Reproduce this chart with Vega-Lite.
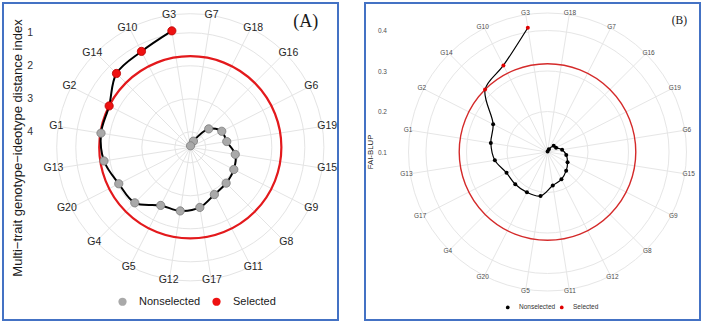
{
  "$schema": "https://vega.github.io/schema/vega-lite/v6.json",
  "background": "white",
  "padding": {"left": 2, "top": 2, "right": 2, "bottom": 2},
  "spacing": 27,
  "bounds": "flush",
  "config": {
    "view": {"stroke": "#4472c4", "strokeWidth": 2},
    "font": "Liberation Sans"
  },
  "datasets": {
    "mgidi": [
      {"g": "G3", "v": 0.897, "sel": "Selected"},
      {"g": "G10", "v": 1.209, "sel": "Selected"},
      {"g": "G14", "v": 1.306, "sel": "Selected"},
      {"g": "G2", "v": 1.71, "sel": "Selected"},
      {"g": "G1", "v": 1.73, "sel": "Nonselected"},
      {"g": "G13", "v": 1.822, "sel": "Nonselected"},
      {"g": "G20", "v": 2.037, "sel": "Nonselected"},
      {"g": "G4", "v": 2.091, "sel": "Nonselected"},
      {"g": "G5", "v": 2.494, "sel": "Nonselected"},
      {"g": "G12", "v": 2.518, "sel": "Nonselected"},
      {"g": "G17", "v": 2.625, "sel": "Nonselected"},
      {"g": "G11", "v": 2.864, "sel": "Nonselected"},
      {"g": "G8", "v": 2.934, "sel": "Nonselected"},
      {"g": "G9", "v": 2.99, "sel": "Nonselected"},
      {"g": "G15", "v": 3.09, "sel": "Nonselected"},
      {"g": "G19", "v": 3.352, "sel": "Nonselected"},
      {"g": "G6", "v": 3.4, "sel": "Nonselected"},
      {"g": "G16", "v": 3.68, "sel": "Nonselected"},
      {"g": "G18", "v": 4.261, "sel": "Nonselected"},
      {"g": "G7", "v": 4.425, "sel": "Nonselected"}
    ],
    "fai": [
      {"g": "G3", "v": 0.4106, "sel": "Selected"},
      {"g": "G10", "v": 0.3398, "sel": "Selected"},
      {"g": "G14", "v": 0.318, "sel": "Selected"},
      {"g": "G2", "v": 0.2506, "sel": "Nonselected"},
      {"g": "G1", "v": 0.2417, "sel": "Nonselected"},
      {"g": "G13", "v": 0.2316, "sel": "Nonselected"},
      {"g": "G17", "v": 0.2135, "sel": "Nonselected"},
      {"g": "G4", "v": 0.2125, "sel": "Nonselected"},
      {"g": "G20", "v": 0.2118, "sel": "Nonselected"},
      {"g": "G5", "v": 0.21, "sel": "Nonselected"},
      {"g": "G11", "v": 0.1835, "sel": "Nonselected"},
      {"g": "G12", "v": 0.1758, "sel": "Nonselected"},
      {"g": "G8", "v": 0.1652, "sel": "Nonselected"},
      {"g": "G9", "v": 0.1556, "sel": "Nonselected"},
      {"g": "G15", "v": 0.1469, "sel": "Nonselected"},
      {"g": "G6", "v": 0.1365, "sel": "Nonselected"},
      {"g": "G19", "v": 0.1237, "sel": "Nonselected"},
      {"g": "G16", "v": 0.1217, "sel": "Nonselected"},
      {"g": "G7", "v": 0.1074, "sel": "Nonselected"},
      {"g": "G18", "v": 0.1012, "sel": "Nonselected"}
    ],
    "ringsA": [{"v": 1}, {"v": 2}, {"v": 3}, {"v": 4}],
    "ringsB": [{"v": 0.2}, {"v": 0.3}, {"v": 0.4}],
    "cutA": [{"cut": 1.71}],
    "cutB": [{"cut": 0.318}]
  },
  "resolve": {
    "scale": {"x": "independent", "y": "independent", "fill": "independent", "stroke": "independent", "radius": "independent"},
    "axis": {"x": "independent", "y": "independent"},
    "legend": {"fill": "independent"}
  },
  "hconcat": [
    {
      "width": 335,
      "height": 317,
      "layer": [
        {
          "data": {"name": "ringsA"},
          "transform": [{"calculate": "4.47 - datum.v", "as": "rho"}],
          "mark": {"type": "arc", "fillOpacity": 0, "stroke": "#e4e4e4", "strokeWidth": 1},
          "encoding": {
            "x": {"datum": 0, "type": "quantitative", "scale": {"domain": [-5.6758, 4.4758], "nice": false, "zero": false}},
            "y": {"datum": 0, "type": "quantitative", "scale": {"domain": [-5.2333, 4.3727], "nice": false, "zero": false}},
            "radius": {"field": "rho", "type": "quantitative", "stack": null, "scale": {"type": "linear", "domain": [0, 10], "range": [0, 330], "nice": false, "zero": true}}
          }
        },
        {
          "data": {"name": "cutA"},
          "mark": {"type": "arc", "fillOpacity": 0, "stroke": "#e4e4e4", "strokeWidth": 1},
          "encoding": {
            "x": {"datum": 0, "type": "quantitative"},
            "y": {"datum": 0, "type": "quantitative"},
            "radius": {"datum": 4.048, "type": "quantitative", "stack": null}
          }
        },
        {
          "data": {"name": "mgidi"},
          "transform": [
            {"window": [{"op": "row_number", "as": "rank"}], "sort": [{"field": "v", "order": "ascending"}]},
            {"calculate": "(-9 - 18 * (datum.rank - 1)) * PI / 180", "as": "t"},
            {"calculate": "4.048 * sin(datum.t)", "as": "sx"},
            {"calculate": "4.048 * cos(datum.t)", "as": "sy"}
          ],
          "mark": {"type": "rule", "stroke": "#e4e4e4", "strokeWidth": 1},
          "encoding": {
            "x": {"field": "sx", "type": "quantitative"},
            "y": {"field": "sy", "type": "quantitative"},
            "x2": {"datum": 0},
            "y2": {"datum": 0}
          }
        },
        {
          "data": {"name": "cutA"},
          "transform": [{"calculate": "4.47 - datum.cut", "as": "rho"}],
          "mark": {"type": "arc", "fillOpacity": 0, "stroke": "#e3191c", "strokeWidth": 2.2},
          "encoding": {
            "x": {"datum": 0, "type": "quantitative"},
            "y": {"datum": 0, "type": "quantitative"},
            "radius": {"field": "rho", "type": "quantitative", "stack": null}
          }
        },
        {
          "data": {"name": "mgidi"},
          "transform": [
            {"window": [{"op": "row_number", "as": "rank"}], "sort": [{"field": "v", "order": "ascending"}]},
            {"calculate": "(-9 - 18 * (datum.rank - 1)) * PI / 180", "as": "t"},
            {"calculate": "4.47 - datum.v", "as": "rho"},
            {"calculate": "datum.rho * sin(datum.t)", "as": "px"},
            {"calculate": "datum.rho * cos(datum.t)", "as": "py"}
          ],
          "mark": {"type": "line", "interpolate": "catmull-rom", "color": "#000000", "strokeWidth": 2},
          "encoding": {
            "x": {"field": "px", "type": "quantitative"},
            "y": {"field": "py", "type": "quantitative"},
            "order": {"field": "rank", "type": "quantitative"}
          }
        },
        {
          "data": {"name": "mgidi"},
          "transform": [
            {"window": [{"op": "row_number", "as": "rank"}], "sort": [{"field": "v", "order": "ascending"}]},
            {"calculate": "(-9 - 18 * (datum.rank - 1)) * PI / 180", "as": "t"},
            {"calculate": "4.47 - datum.v", "as": "rho"},
            {"calculate": "datum.rho * sin(datum.t)", "as": "px"},
            {"calculate": "datum.rho * cos(datum.t)", "as": "py"}
          ],
          "mark": {"type": "point", "shape": "circle", "filled": true, "size": 68, "opacity": 1, "strokeWidth": 0.8},
          "encoding": {
            "x": {
              "field": "px", "type": "quantitative",
              "axis": {
                "orient": "top", "offset": 0, "domain": false, "ticks": false, "labels": false, "grid": false,
                "title": "(A)", "titleFont": "Liberation Serif", "titleFontSize": 18, "titleFontWeight": "normal", "titleColor": "#1a1a1a",
                "titleX": 314.7, "titleY": 23, "titleAlign": "right", "titleBaseline": "alphabetic", "titleAngle": 0
              }
            },
            "y": {
              "field": "py", "type": "quantitative",
              "axis": {
                "orient": "left", "offset": -31.5, "values": [3.47, 2.47, 1.47, 0.47],
                "labelExpr": "format(4.47 - datum.value, '.0f')",
                "domain": false, "ticks": false, "tickSize": 0, "grid": false,
                "labelPadding": 2, "labelFlush": false, "labelOverlap": false,
                "labelFont": "Liberation Sans", "labelFontSize": 10.5, "labelColor": "#333333",
                "title": "Multi−trait genotype−ideotype distance index",
                "titleFont": "Liberation Sans", "titleFontSize": 13, "titleFontWeight": "normal", "titleColor": "#1a1a1a",
                "titleX": -17, "titleY": 144.5, "titleBaseline": "middle", "titleAngle": 270, "titleAlign": "center"
              }
            },
            "fill": {
              "field": "sel", "type": "nominal",
              "scale": {"domain": ["Nonselected", "Selected"], "range": ["#a9a9a9", "#ee1111"]},
              "legend": {
                "orient": "none", "legendX": 114, "legendY": 293, "direction": "horizontal", "title": null,
                "symbolType": "circle", "symbolSize": 68, "symbolStrokeWidth": 0,
                "labelFont": "Liberation Sans", "labelFontSize": 11, "labelColor": "#1a1a1a",
                "labelOffset": 11, "columnPadding": 10, "padding": 0
              }
            },
            "stroke": {
              "field": "sel", "type": "nominal",
              "scale": {"domain": ["Nonselected", "Selected"], "range": ["#7a7a7a", "#b80000"]},
              "legend": null
            }
          }
        },
        {
          "data": {"name": "mgidi"},
          "transform": [
            {"window": [{"op": "row_number", "as": "rank"}], "sort": [{"field": "v", "order": "ascending"}]},
            {"calculate": "(-9 - 18 * (datum.rank - 1)) * PI / 180", "as": "t"},
            {"calculate": "sin(datum.t) * (129.9 + 2.9 * length(datum.g)) / 33", "as": "lx"},
            {"calculate": "cos(datum.t) * 134 / 33", "as": "ly"}
          ],
          "mark": {"type": "text", "font": "Liberation Sans", "fontSize": 10.5, "color": "#262626", "align": "center", "baseline": "middle"},
          "encoding": {
            "x": {"field": "lx", "type": "quantitative"},
            "y": {"field": "ly", "type": "quantitative"},
            "text": {"field": "g", "type": "nominal"}
          }
        }
      ]
    },
    {
      "width": 335,
      "height": 317,
      "layer": [
        {
          "data": {"name": "ringsB"},
          "transform": [{"calculate": "datum.v - 0.1", "as": "rho"}],
          "mark": {"type": "arc", "fillOpacity": 0, "stroke": "#e6e6e6", "strokeWidth": 1},
          "encoding": {
            "x": {"datum": 0, "type": "quantitative", "scale": {"domain": [-0.45062, 0.37654], "nice": false, "zero": false}},
            "y": {"datum": 0, "type": "quantitative", "scale": {"domain": [-0.41481, 0.3679], "nice": false, "zero": false}},
            "radius": {"field": "rho", "type": "quantitative", "stack": null, "scale": {"type": "linear", "domain": [0, 1], "range": [0, 405], "nice": false, "zero": true}}
          }
        },
        {
          "data": {"name": "cutB"},
          "mark": {"type": "arc", "fillOpacity": 0, "stroke": "#e6e6e6", "strokeWidth": 1},
          "encoding": {
            "x": {"datum": 0, "type": "quantitative"},
            "y": {"datum": 0, "type": "quantitative"},
            "radius": {"datum": 0.3432, "type": "quantitative", "stack": null}
          }
        },
        {
          "data": {"name": "fai"},
          "transform": [
            {"window": [{"op": "row_number", "as": "rank"}], "sort": [{"field": "v", "order": "descending"}]},
            {"calculate": "(-9 - 18 * (datum.rank - 1)) * PI / 180", "as": "t"},
            {"calculate": "0.3432 * sin(datum.t)", "as": "sx"},
            {"calculate": "0.3432 * cos(datum.t)", "as": "sy"}
          ],
          "mark": {"type": "rule", "stroke": "#e6e6e6", "strokeWidth": 1},
          "encoding": {
            "x": {"field": "sx", "type": "quantitative"},
            "y": {"field": "sy", "type": "quantitative"},
            "x2": {"datum": 0},
            "y2": {"datum": 0}
          }
        },
        {
          "data": {"name": "cutB"},
          "transform": [{"calculate": "datum.cut - 0.1", "as": "rho"}],
          "mark": {"type": "arc", "fillOpacity": 0, "stroke": "#d42a2a", "strokeWidth": 1.4},
          "encoding": {
            "x": {"datum": 0, "type": "quantitative"},
            "y": {"datum": 0, "type": "quantitative"},
            "radius": {"field": "rho", "type": "quantitative", "stack": null}
          }
        },
        {
          "data": {"name": "fai"},
          "transform": [
            {"window": [{"op": "row_number", "as": "rank"}], "sort": [{"field": "v", "order": "descending"}]},
            {"calculate": "(-9 - 18 * (datum.rank - 1)) * PI / 180", "as": "t"},
            {"calculate": "datum.v - 0.1", "as": "rho"},
            {"calculate": "datum.rho * sin(datum.t)", "as": "px"},
            {"calculate": "datum.rho * cos(datum.t)", "as": "py"}
          ],
          "mark": {"type": "line", "interpolate": "catmull-rom", "color": "#000000", "strokeWidth": 1.2},
          "encoding": {
            "x": {"field": "px", "type": "quantitative"},
            "y": {"field": "py", "type": "quantitative"},
            "order": {"field": "rank", "type": "quantitative"}
          }
        },
        {
          "data": {"name": "fai"},
          "transform": [
            {"window": [{"op": "row_number", "as": "rank"}], "sort": [{"field": "v", "order": "descending"}]},
            {"calculate": "(-9 - 18 * (datum.rank - 1)) * PI / 180", "as": "t"},
            {"calculate": "datum.v - 0.1", "as": "rho"},
            {"calculate": "datum.rho * sin(datum.t)", "as": "px"},
            {"calculate": "datum.rho * cos(datum.t)", "as": "py"}
          ],
          "mark": {"type": "point", "shape": "circle", "filled": true, "size": 16, "opacity": 1, "strokeWidth": 0},
          "encoding": {
            "x": {
              "field": "px", "type": "quantitative",
              "axis": {
                "orient": "top", "offset": 0, "domain": false, "ticks": false, "labels": false, "grid": false,
                "title": "(B)", "titleFont": "Liberation Serif", "titleFontSize": 11.5, "titleFontWeight": "normal", "titleColor": "#1a1a1a",
                "titleX": 321.5, "titleY": 20.7, "titleAlign": "right", "titleBaseline": "alphabetic", "titleAngle": 0
              }
            },
            "y": {
              "field": "py", "type": "quantitative",
              "axis": {
                "orient": "left", "offset": -23.5, "values": [0.3, 0.2, 0.1, 0.0],
                "labelExpr": "format(datum.value + 0.1, '.1f')",
                "domain": false, "ticks": false, "tickSize": 0, "grid": false,
                "labelPadding": 2, "labelFlush": false, "labelOverlap": false,
                "labelFont": "Liberation Sans", "labelFontSize": 6.5, "labelColor": "#4d4d4d",
                "title": "FAI-BLUP",
                "titleFont": "Liberation Sans", "titleFontSize": 7.8, "titleFontWeight": "normal", "titleColor": "#1a1a1a",
                "titleX": -18, "titleY": 148.5, "titleBaseline": "middle", "titleAngle": 270, "titleAlign": "center"
              }
            },
            "fill": {
              "field": "sel", "type": "nominal",
              "scale": {"domain": ["Nonselected", "Selected"], "range": ["#000000", "#e00000"]},
              "legend": {
                "orient": "none", "legendX": 139.5, "legendY": 301, "direction": "horizontal", "title": null,
                "symbolType": "circle", "symbolSize": 14, "symbolStrokeWidth": 0,
                "labelFont": "Liberation Sans", "labelFontSize": 6.5, "labelColor": "#333333",
                "labelOffset": 8, "columnPadding": 3, "padding": 0
              }
            }
          }
        },
        {
          "data": {"name": "fai"},
          "transform": [
            {"window": [{"op": "row_number", "as": "rank"}], "sort": [{"field": "v", "order": "descending"}]},
            {"calculate": "(-9 - 18 * (datum.rank - 1)) * PI / 180", "as": "t"},
            {"calculate": "sin(datum.t) * (137.5 + 1.8 * length(datum.g)) / 405", "as": "lx"},
            {"calculate": "cos(datum.t) * 140.3 / 405", "as": "ly"}
          ],
          "mark": {"type": "text", "font": "Liberation Sans", "fontSize": 6.5, "color": "#4d4d4d", "align": "center", "baseline": "middle"},
          "encoding": {
            "x": {"field": "lx", "type": "quantitative"},
            "y": {"field": "ly", "type": "quantitative"},
            "text": {"field": "g", "type": "nominal"}
          }
        }
      ]
    }
  ]
}
